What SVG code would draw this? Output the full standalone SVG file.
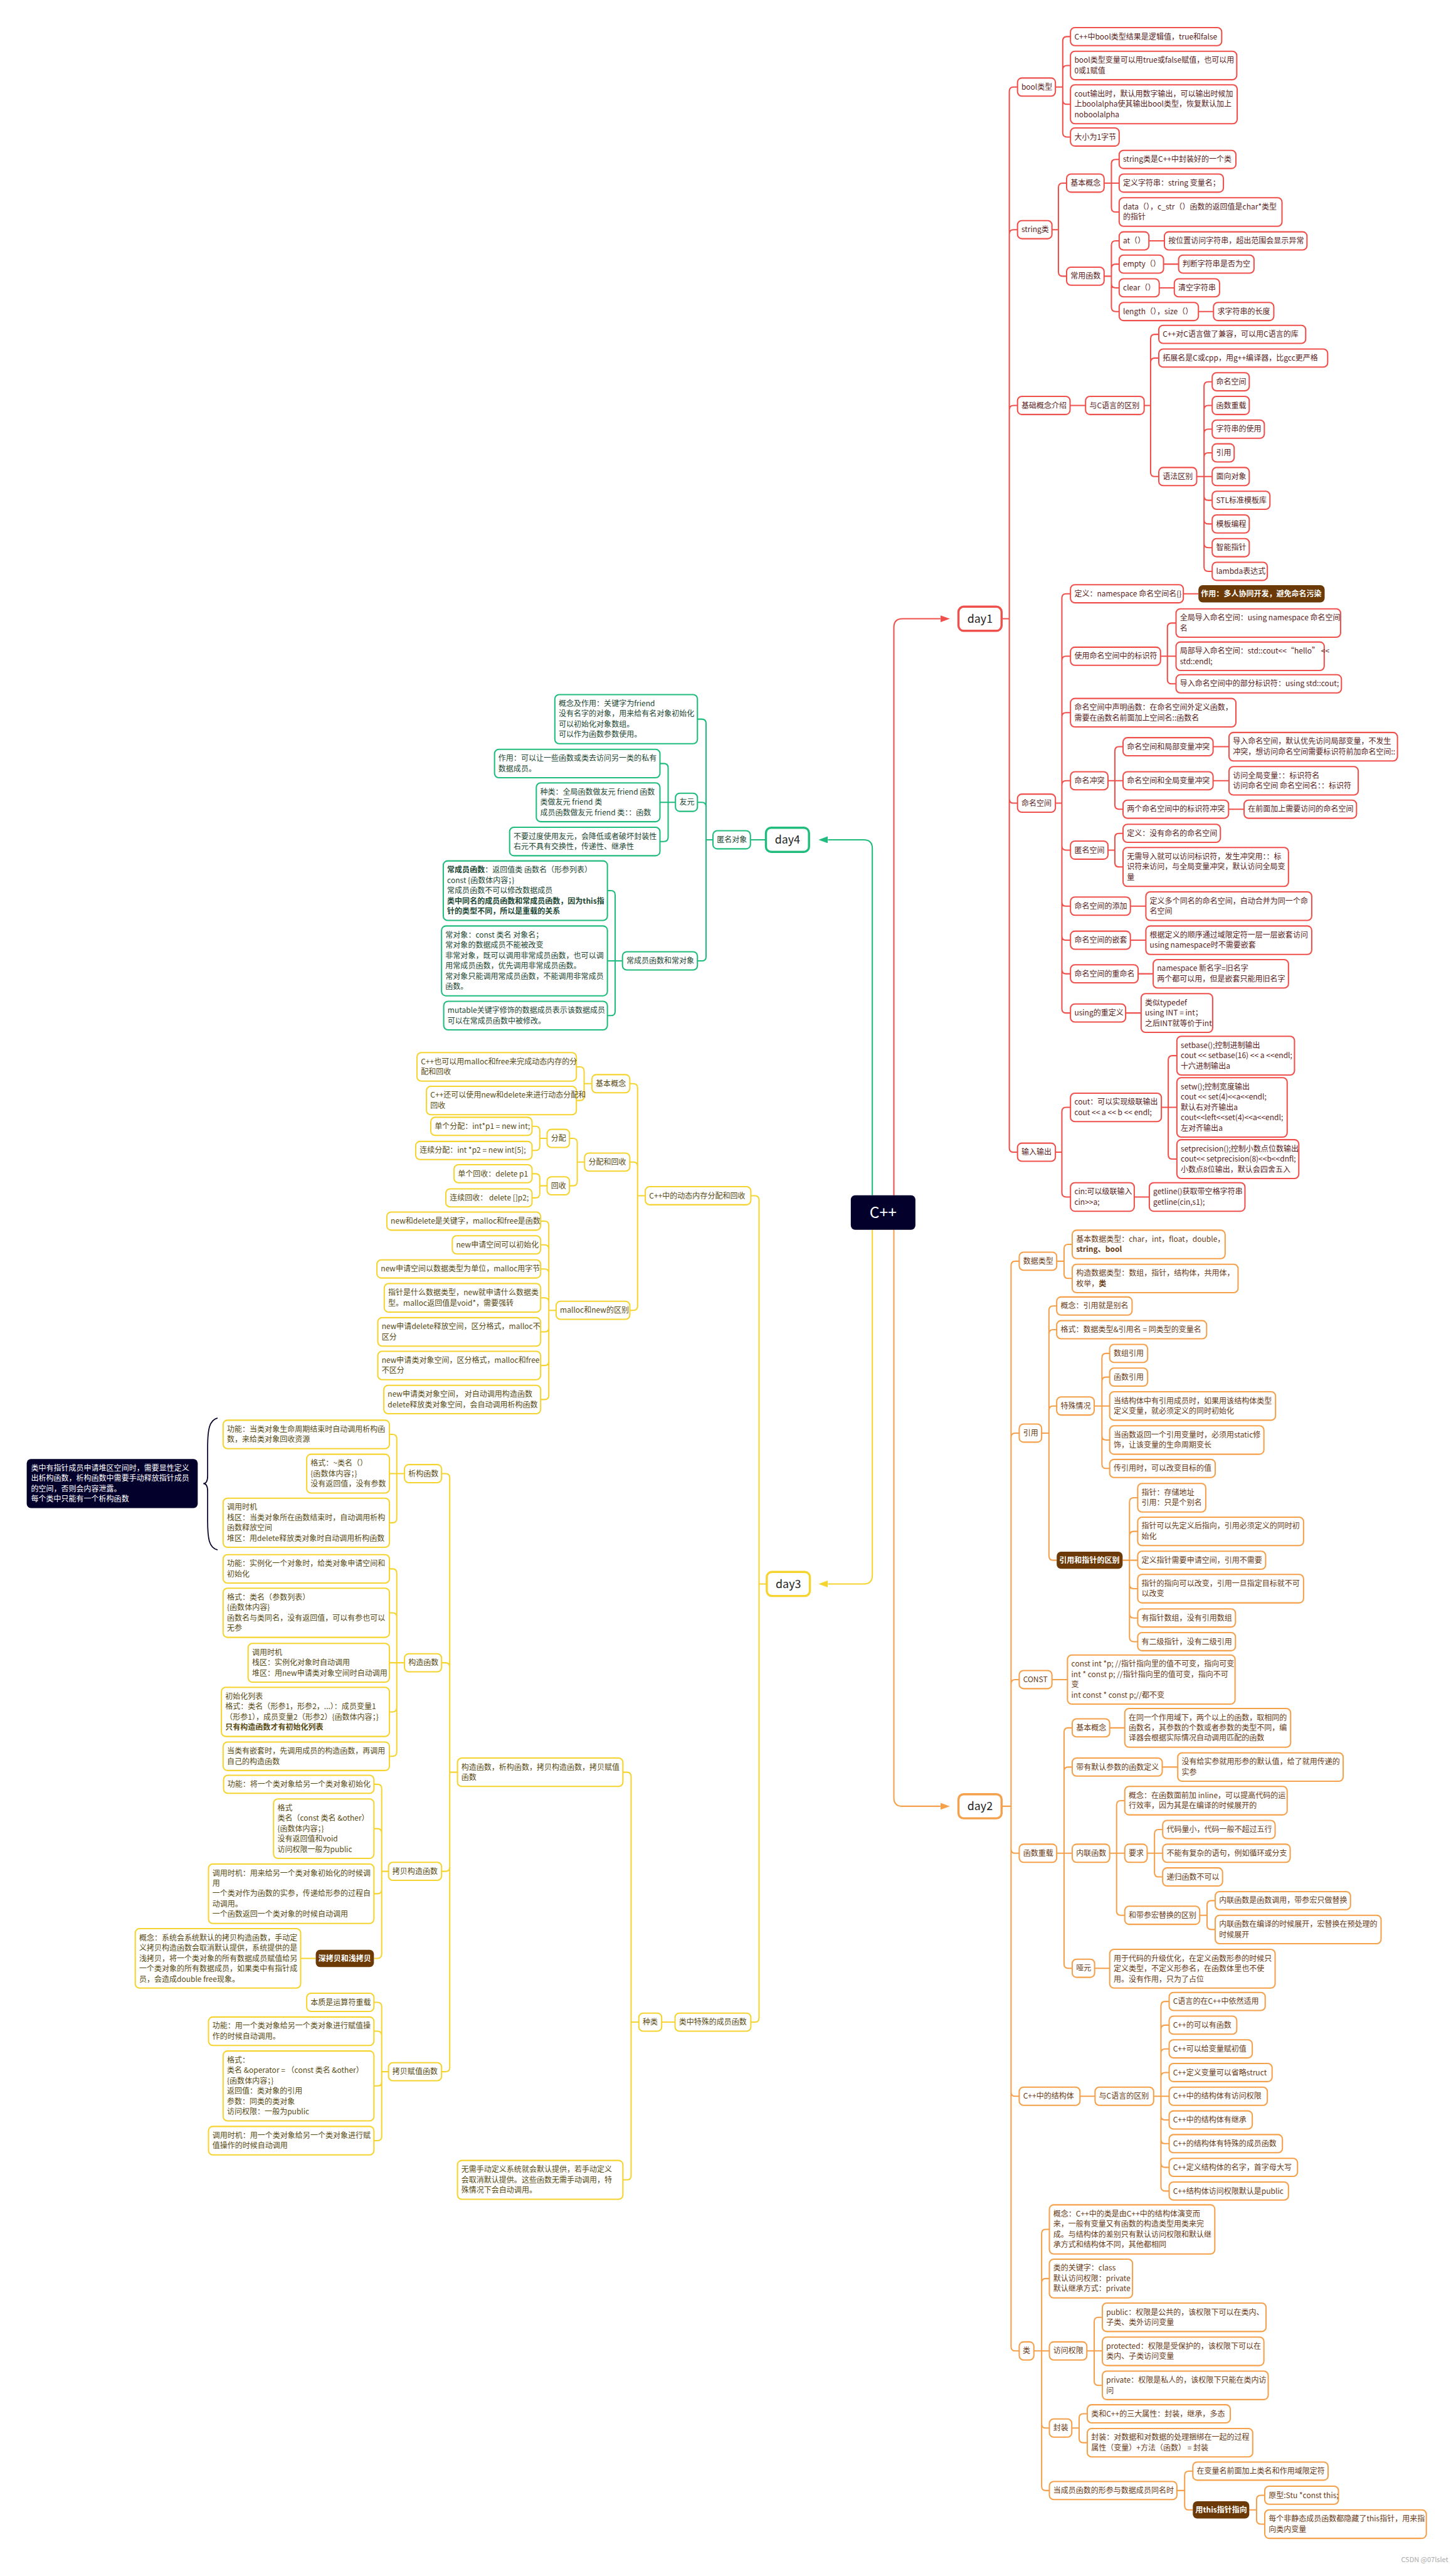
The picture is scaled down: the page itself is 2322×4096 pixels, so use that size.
<svg xmlns="http://www.w3.org/2000/svg" width="2322" height="4096" viewBox="0 0 2322 4096">
<style>
text{font-family:'Noto Sans CJK SC','Noto Sans',sans-serif;font-size:17.5px}
.r{fill:#fff;stroke:#F0504C;stroke-width:3}
.o{fill:#fff;stroke:#F5A04B;stroke-width:3}
.y{fill:#fff;stroke:#F6D430;stroke-width:3}
.g{fill:#fff;stroke:#20BC7D;stroke-width:3}
.d{stroke-width:5}
.bb{fill:#6B3A06}
.nv{fill:#03012B}
.tr{fill:#5A1C1C}.to{fill:#693A15}.ty{fill:#574A12}.tg{fill:#1C4733}
.tw{fill:#fff;font-weight:bold}
.tn{fill:#fff}
.td{font-size:26px;fill:#222;text-anchor:middle}
.b{font-weight:bold}
.cr{fill:none;stroke:#F0504C;stroke-width:3}
.co{fill:none;stroke:#F5A04B;stroke-width:3}
.cy{fill:none;stroke:#F6D430;stroke-width:3}
.cg{fill:none;stroke:#20BC7D;stroke-width:3}
</style>
<defs>
<marker id="ar" markerUnits="userSpaceOnUse" markerWidth="22" markerHeight="16" refX="0" refY="8" orient="auto" viewBox="0 0 22 16"><path d="M0 0L22 8L0 16z" fill="#F0504C"/></marker>
<marker id="ag" markerUnits="userSpaceOnUse" markerWidth="22" markerHeight="16" refX="0" refY="8" orient="auto" viewBox="0 0 22 16"><path d="M0 0L22 8L0 16z" fill="#20BC7D"/></marker>
<marker id="ay" markerUnits="userSpaceOnUse" markerWidth="22" markerHeight="16" refX="0" refY="8" orient="auto" viewBox="0 0 22 16"><path d="M0 0L22 8L0 16z" fill="#F6D430"/></marker>
<marker id="ao" markerUnits="userSpaceOnUse" markerWidth="22" markerHeight="16" refX="0" refY="8" orient="auto" viewBox="0 0 22 16"><path d="M0 0L22 8L0 16z" fill="#F5A04B"/></marker>
</defs>
<rect width="2322" height="4096" fill="#fff"/>
<g transform="scale(0.687)">
<g id="connectors">
<path class="cr" d="M2075 2774V1456Q2075 1436 2095 1436H2183" marker-end="url(#ar)"/>
<path class="cg" d="M2025 2774V1969Q2025 1949 2005 1949H1922" marker-end="url(#ag)"/>
<path class="cy" d="M2025 2854V3656Q2025 3676 2005 3676H1922" marker-end="url(#ay)"/>
<path class="co" d="M2075 2854V4172Q2075 4192 2095 4192H2183" marker-end="url(#ao)"/>
<path class="cr" d="M2325 1436H2343M2343 1436V212Q2343 202 2353 202H2362M2343 1436V543Q2343 533 2353 533H2362M2343 1436V951Q2343 941 2353 941H2362M2343 1436V1854Q2343 1864 2353 1864H2362M2343 1436V2664Q2343 2674 2353 2674H2362
M2450 202H2467M2467 202V95Q2467 85 2477 85H2485M2467 202V162Q2467 152 2477 152H2485M2467 202V232Q2467 242 2477 242H2485M2467 202V308Q2467 318 2477 318H2485
M2442 533H2457M2457 533V435Q2457 425 2467 425H2476M2457 533V631Q2457 641 2467 641H2476
M2563 425H2598M2580 425V380Q2580 370 2590 370H2598M2580 425V482Q2580 492 2590 492H2598
M2563 641H2580M2580 641V569Q2580 559 2590 559H2598M2580 641V623Q2580 613 2590 613H2598M2580 641V658Q2580 668 2590 668H2598M2580 641V713Q2580 723 2590 723H2598
M2667 559H2703M2701 613H2736M2691 668H2726M2782 723H2817
M2484 941H2520
M2656 941H2671M2671 941V786Q2671 776 2681 776H2690M2671 941V841Q2671 831 2681 831H2690M2671 941V1096Q2671 1106 2681 1106H2690
M2778 1106H2814M2795 1106V896Q2795 886 2805 886H2814M2795 1106V951Q2795 941 2805 941H2814M2795 1106V1006Q2795 996 2805 996H2814M2795 1106V1061Q2795 1051 2805 1051H2814M2795 1106V1151Q2795 1161 2805 1161H2814M2795 1106V1206Q2795 1216 2805 1216H2814M2795 1106V1261Q2795 1271 2805 1271H2814M2795 1106V1316Q2795 1326 2805 1326H2814
M2450 1864H2465M2465 1864V1388Q2465 1378 2475 1378H2485M2465 1864V1533Q2465 1523 2475 1523H2485M2465 1864V1664Q2465 1654 2475 1654H2485M2465 1864V1822Q2465 1812 2475 1812H2485M2465 1864V1963Q2465 1973 2475 1973H2485M2465 1864V2093Q2465 2103 2475 2103H2485M2465 1864V2172Q2465 2182 2475 2182H2485M2465 1864V2250Q2465 2260 2475 2260H2485M2465 1864V2341Q2465 2351 2475 2351H2485
M2747 1378H2782
M2694 1523H2730M2710 1523V1456Q2710 1446 2720 1446H2730M2710 1523V1577Q2710 1587 2720 1587H2730
M2572 1812H2607M2588 1812V1743Q2588 1733 2598 1733H2607M2588 1812V1868Q2588 1878 2598 1878H2607M2816 1733H2853M2816 1812H2853M2852 1878H2888
M2572 1973H2588M2588 1973V1944Q2588 1934 2598 1934H2607M2588 1973V2002Q2588 2012 2598 2012H2607
M2624 2103H2660M2624 2182H2660M2642 2260H2677M2613 2351H2649
M2450 2674H2465M2465 2674V2580Q2465 2570 2475 2570H2485M2465 2674V2768Q2465 2778 2475 2778H2485
M2696 2570H2732M2712 2570V2460Q2712 2450 2722 2450H2732M2712 2570V2680Q2712 2690 2722 2690H2732
M2633 2778H2668"/>
<path class="cg" d="M1778 1949H1742
M1655 1949H1639M1639 1949V1679Q1639 1669 1629 1669H1619M1639 1949V1872Q1639 1862 1629 1862H1619M1639 1949V2220Q1639 2230 1629 2230H1619
M1568 1862H1532M1551 1862V1782Q1551 1772 1541 1772H1532M1551 1862V1943Q1551 1953 1541 1953H1532
M1445 2230H1410M1428 2230V2077Q1428 2067 1418 2067H1410M1428 2230V2347Q1428 2357 1418 2357H1410"/>
<path class="cy" d="M1780 3676H1762M1762 3676V2785Q1762 2775 1752 2775H1743M1762 3676V4683Q1762 4693 1752 4693H1743
M1498 2775H1480M1480 2775V2525Q1480 2515 1470 2515H1462M1480 2775V2707Q1480 2697 1470 2697H1462M1480 2775V3031Q1480 3041 1470 3041H1462
M1374 2515H1356M1356 2515V2486Q1356 2476 1346 2476H1338M1356 2515V2544Q1356 2554 1346 2554H1338
M1357 2697H1340M1340 2697V2652Q1340 2642 1330 2642H1322M1340 2697V2742Q1340 2752 1330 2752H1322
M1270 2642H1253M1253 2642V2624Q1253 2614 1243 2614H1235M1253 2642V2660Q1253 2670 1243 2670H1235
M1270 2752H1253M1253 2752V2734Q1253 2724 1243 2724H1235M1253 2752V2770Q1253 2780 1243 2780H1235
M1291 3041H1274M1274 3041V2844Q1274 2834 1264 2834H1255M1274 3041V2899Q1274 2889 1264 2889H1255M1274 3041V2955Q1274 2945 1264 2945H1255M1274 3041V3022Q1274 3012 1264 3012H1255M1274 3041V3081Q1274 3091 1264 3091H1255M1274 3041V3159Q1274 3169 1264 3169H1255M1274 3041V3238Q1274 3248 1264 3248H1255
M1567 4693H1536
M1483 4693H1465M1465 4693V4123Q1465 4113 1455 4113H1446M1465 4693V5049Q1465 5059 1455 5059H1446
M1062 4113H1044M1044 4113V3430Q1044 3420 1034 3420H1025M1044 4113V3869Q1044 3859 1034 3859H1025M1044 4113V4333Q1044 4343 1034 4343H1025M1044 4113V4798Q1044 4808 1034 4808H1025
M939 3420H904M921 3420V3339Q921 3329 911 3329H904M921 3420V3524Q921 3534 911 3534H904
M939 3859H904M921 3859V3651Q921 3641 911 3641H904M921 3859V3753Q921 3743 911 3743H904M921 3859V3963Q921 3973 911 3973H904M921 3859V4066Q921 4076 911 4076H904
M902 4343H886M886 4343V4151Q886 4141 876 4141H868M886 4343V4254Q886 4244 876 4244H868M886 4343V4385Q886 4395 876 4395H868M886 4343V4535Q886 4545 876 4545H868
M733 4545H698
M902 4808H886M886 4808V4657Q886 4647 876 4647H868M886 4808V4724Q886 4714 876 4714H868M886 4808V4831Q886 4841 876 4841H868M886 4808V4958Q886 4968 876 4968H868"/>
<path class="co" d="M2325 4192H2347M2347 4192V2937Q2347 2927 2357 2927H2366M2347 4192V3336Q2347 3326 2357 3326H2366M2347 4192V3908Q2347 3898 2357 3898H2366M2347 4192V4291Q2347 4301 2357 4301H2366M2347 4192V4855Q2347 4865 2357 4865H2366M2347 4192V5446Q2347 5456 2357 5456H2366
M2453 2927H2470M2470 2927V2898Q2470 2888 2480 2888H2489M2470 2927V2957Q2470 2967 2480 2967H2489
M2418 3326H2435M2435 3326V3041Q2435 3031 2445 3031H2453M2435 3326V3096Q2435 3086 2445 3086H2453M2435 3326V3273Q2435 3263 2445 3263H2453M2435 3326V3611Q2435 3621 2445 3621H2453
M2540 3263H2576M2558 3263V3151Q2558 3141 2568 3141H2576M2558 3263V3206Q2558 3196 2568 3196H2576M2558 3263V3332Q2558 3342 2568 3342H2576M2558 3263V3398Q2558 3408 2568 3408H2576
M2606 3621H2641M2622 3621V3486Q2622 3476 2632 3476H2641M2622 3621V3564Q2622 3554 2632 3554H2641M2622 3621V3677Q2622 3687 2632 3687H2641M2622 3621V3745Q2622 3755 2632 3755H2641M2622 3621V3800Q2622 3810 2632 3810H2641
M2442 3898H2478
M2453 4301H2489M2470 4301V4020Q2470 4010 2480 4010H2489M2470 4301V4111Q2470 4101 2480 4101H2489M2470 4301V4558Q2470 4568 2480 4568H2489
M2576 4010H2611M2698 4101H2734M2541 4568H2576
M2576 4301H2611M2592 4301V4189Q2592 4179 2602 4179H2611M2592 4301V4435Q2592 4445 2602 4445H2611
M2663 4301H2699M2680 4301V4256Q2680 4246 2690 4246H2699M2680 4301V4346Q2680 4356 2690 4356H2699
M2785 4445H2802M2802 4445V4421Q2802 4411 2812 4411H2821M2802 4445V4468Q2802 4478 2812 4478H2821
M2507 4865H2542
M2678 4865H2714M2695 4865V4655Q2695 4645 2705 4645H2714M2695 4865V4710Q2695 4700 2705 4700H2714M2695 4865V4765Q2695 4755 2705 4755H2714M2695 4865V4820Q2695 4810 2705 4810H2714M2695 4865V4910Q2695 4920 2705 4920H2714M2695 4865V4965Q2695 4975 2705 4975H2714M2695 4865V5020Q2695 5030 2705 5030H2714M2695 4865V5075Q2695 5085 2705 5085H2714
M2400 5456H2436M2418 5456V5184Q2418 5174 2428 5174H2436M2418 5456V5298Q2418 5288 2428 5288H2436M2418 5456V5625Q2418 5635 2428 5635H2436M2418 5456V5770Q2418 5780 2428 5780H2436
M2523 5456H2559M2540 5456V5388Q2540 5378 2550 5378H2559M2540 5456V5526Q2540 5536 2550 5536H2559
M2488 5635H2505M2505 5635V5612Q2505 5602 2515 5602H2524M2505 5635V5659Q2505 5669 2515 5669H2524
M2732 5780H2750M2750 5780V5745Q2750 5735 2760 5735H2769M2750 5780V5815Q2750 5825 2760 5825H2769
M2900 5825H2917M2917 5825V5801Q2917 5791 2927 5791H2936M2917 5825V5848Q2917 5858 2927 5858H2936"/>
<path d="M505 3291C485 3296 482 3320 482 3360L482 3425Q482 3443 472 3443Q482 3443 482 3461L482 3530C482 3570 485 3592 505 3597" fill="none" stroke="#03012B" stroke-width="2.5"/>
</g>

<g id="n-root"><rect class="nv" x="1975" y="2774" width="150" height="80" rx="10"/><text class="tn" x="2050" y="2827" font-size="36" text-anchor="middle" style="font-size:36px">C++</text></g>

<!-- RED day1 -->
<g id="n-day1"><rect class="r d" x="2225" y="1408" width="100" height="56" rx="12"/><text class="td" x="2275" y="1445">day1</text></g>
<g id="n-bool"><rect class="r" x="2362" y="181" width="88" height="42" rx="10"/><text class="tr" x="2371" y="208">bool类型</text></g>
<g id="n-b1"><rect class="r" x="2485" y="64" width="351" height="42" rx="10"/><text class="tr" x="2494" y="91">C++中bool类型结果是逻辑值，true和false</text></g>
<g id="n-b2"><rect class="r" x="2485" y="119" width="386" height="66" rx="10"/><text class="tr"><tspan x="2494" y="146">bool类型变量可以用true或false赋值，也可以用</tspan><tspan x="2494" y="170">0或1赋值</tspan></text></g>
<g id="n-b3"><rect class="r" x="2485" y="197" width="387" height="90" rx="10"/><text class="tr"><tspan x="2494" y="224">cout输出时，默认用数字输出，可以输出时候加</tspan><tspan x="2494" y="248">上boolalpha使其输出bool类型，恢复默认加上</tspan><tspan x="2494" y="272">noboolalpha</tspan></text></g>
<g id="n-b4"><rect class="r" x="2485" y="297" width="113" height="42" rx="10"/><text class="tr" x="2494" y="324">大小为1字节</text></g>
<g id="n-string"><rect class="r" x="2362" y="512" width="80" height="42" rx="10"/><text class="tr" x="2371" y="539">string类</text></g>
<g id="n-sjb"><rect class="r" x="2476" y="404" width="87" height="42" rx="10"/><text class="tr" x="2485" y="431">基本概念</text></g>
<g id="n-s1"><rect class="r" x="2598" y="349" width="271" height="42" rx="10"/><text class="tr" x="2607" y="376">string类是C++中封装好的一个类</text></g>
<g id="n-s2"><rect class="r" x="2598" y="404" width="242" height="42" rx="10"/><text class="tr" x="2607" y="431">定义字符串：string 变量名；</text></g>
<g id="n-s3"><rect class="r" x="2598" y="459" width="378" height="66" rx="10"/><text class="tr"><tspan x="2607" y="486">data（），c_str（）函数的返回值是char*类型</tspan><tspan x="2607" y="510">的指针</tspan></text></g>
<g id="n-scy"><rect class="r" x="2476" y="620" width="87" height="42" rx="10"/><text class="tr" x="2485" y="647">常用函数</text></g>
<g id="n-at"><rect class="r" x="2598" y="538" width="69" height="42" rx="10"/><text class="tr" x="2607" y="565">at（）</text></g>
<g id="n-atd"><rect class="r" x="2703" y="538" width="331" height="42" rx="10"/><text class="tr" x="2712" y="565">按位置访问字符串，超出范围会显示异常</text></g>
<g id="n-empty"><rect class="r" x="2598" y="592" width="103" height="42" rx="10"/><text class="tr" x="2607" y="619">empty（）</text></g>
<g id="n-emptyd"><rect class="r" x="2736" y="592" width="175" height="42" rx="10"/><text class="tr" x="2745" y="619">判断字符串是否为空</text></g>
<g id="n-clear"><rect class="r" x="2598" y="647" width="93" height="42" rx="10"/><text class="tr" x="2607" y="674">clear（）</text></g>
<g id="n-cleard"><rect class="r" x="2726" y="647" width="105" height="42" rx="10"/><text class="tr" x="2735" y="674">清空字符串</text></g>
<g id="n-len"><rect class="r" x="2598" y="702" width="184" height="42" rx="10"/><text class="tr" x="2607" y="729">length（），size（）</text></g>
<g id="n-lend"><rect class="r" x="2817" y="702" width="140" height="42" rx="10"/><text class="tr" x="2826" y="729">求字符串的长度</text></g>
<g id="n-jcgn"><rect class="r" x="2362" y="920" width="122" height="42" rx="10"/><text class="tr" x="2371" y="947">基础概念介绍</text></g>
<g id="n-yc"><rect class="r" x="2520" y="920" width="136" height="42" rx="10"/><text class="tr" x="2529" y="947">与C语言的区别</text></g>
<g id="n-yc1"><rect class="r" x="2690" y="755" width="341" height="42" rx="10"/><text class="tr" x="2699" y="782">C++对C语言做了兼容，可以用C语言的库</text></g>
<g id="n-yc2"><rect class="r" x="2690" y="810" width="392" height="42" rx="10"/><text class="tr" x="2699" y="837">拓展名是C或cpp，用g++编译器，比gcc更严格</text></g>
<g id="n-yf"><rect class="r" x="2690" y="1085" width="88" height="42" rx="10"/><text class="tr" x="2699" y="1112">语法区别</text></g>
<g id="n-yf1"><rect class="r" x="2814" y="865" width="86" height="42" rx="10"/><text class="tr" x="2823" y="892">命名空间</text></g>
<g id="n-yf2"><rect class="r" x="2814" y="920" width="86" height="42" rx="10"/><text class="tr" x="2823" y="947">函数重载</text></g>
<g id="n-yf3"><rect class="r" x="2814" y="975" width="121" height="42" rx="10"/><text class="tr" x="2823" y="1002">字符串的使用</text></g>
<g id="n-yf4"><rect class="r" x="2814" y="1030" width="51" height="42" rx="10"/><text class="tr" x="2823" y="1057">引用</text></g>
<g id="n-yf5"><rect class="r" x="2814" y="1085" width="86" height="42" rx="10"/><text class="tr" x="2823" y="1112">面向对象</text></g>
<g id="n-yf6"><rect class="r" x="2814" y="1140" width="134" height="42" rx="10"/><text class="tr" x="2823" y="1167">STL标准模板库</text></g>
<g id="n-yf7"><rect class="r" x="2814" y="1195" width="86" height="42" rx="10"/><text class="tr" x="2823" y="1222">模板编程</text></g>
<g id="n-yf8"><rect class="r" x="2814" y="1250" width="86" height="42" rx="10"/><text class="tr" x="2823" y="1277">智能指针</text></g>
<g id="n-yf9"><rect class="r" x="2814" y="1305" width="128" height="42" rx="10"/><text class="tr" x="2823" y="1332">lambda表达式</text></g>
<g id="n-mm"><rect class="r" x="2362" y="1843" width="88" height="42" rx="10"/><text class="tr" x="2371" y="1870">命名空间</text></g>
<g id="n-m1"><rect class="r" x="2485" y="1357" width="262" height="42" rx="10"/><text class="tr" x="2494" y="1384">定义：namespace 命名空间名{}</text></g>
<g id="n-m1b"><rect class="bb" x="2782" y="1358" width="293" height="40" rx="10"/><text class="tw" x="2788" y="1384">作用：多人协同开发，避免命名污染</text></g>
<g id="n-m2"><rect class="r" x="2485" y="1502" width="209" height="42" rx="10"/><text class="tr" x="2494" y="1529">使用命名空间中的标识符</text></g>
<g id="n-m21"><rect class="r" x="2730" y="1413" width="382" height="66" rx="10"/><text class="tr"><tspan x="2739" y="1440">全局导入命名空间：using namespace 命名空间</tspan><tspan x="2739" y="1464">名</tspan></text></g>
<g id="n-m22"><rect class="r" x="2730" y="1490" width="344" height="66" rx="10"/><text class="tr"><tspan x="2739" y="1517">局部导入命名空间：std::cout&lt;&lt;“hello” &lt;&lt;</tspan><tspan x="2739" y="1541">std::endl;</tspan></text></g>
<g id="n-m23"><rect class="r" x="2730" y="1566" width="384" height="42" rx="10"/><text class="tr" x="2739" y="1593">导入命名空间中的部分标识符：using std::cout;</text></g>
<g id="n-m3"><rect class="r" x="2485" y="1621" width="384" height="66" rx="10"/><text class="tr"><tspan x="2494" y="1648">命名空间中声明函数：在命名空间外定义函数，</tspan><tspan x="2494" y="1672">需要在函数名前面加上空间名::函数名</tspan></text></g>
<g id="n-m4"><rect class="r" x="2485" y="1791" width="87" height="42" rx="10"/><text class="tr" x="2494" y="1818">命名冲突</text></g>
<g id="n-m41"><rect class="r" x="2607" y="1712" width="209" height="42" rx="10"/><text class="tr" x="2616" y="1739">命名空间和局部变量冲突</text></g>
<g id="n-m41d"><rect class="r" x="2853" y="1700" width="391" height="66" rx="10"/><text class="tr"><tspan x="2862" y="1727">导入命名空间，默认优先访问局部变量，不发生</tspan><tspan x="2862" y="1751">冲突，想访问命名空间需要标识符前加命名空间::</tspan></text></g>
<g id="n-m42"><rect class="r" x="2607" y="1791" width="209" height="42" rx="10"/><text class="tr" x="2616" y="1818">命名空间和全局变量冲突</text></g>
<g id="n-m42d"><rect class="r" x="2853" y="1779" width="300" height="66" rx="10"/><text class="tr"><tspan x="2862" y="1806">访问全局变量：：标识符名</tspan><tspan x="2862" y="1830">访问命名空间 命名空间名：：标识符</tspan></text></g>
<g id="n-m43"><rect class="r" x="2607" y="1857" width="245" height="42" rx="10"/><text class="tr" x="2616" y="1884">两个命名空间中的标识符冲突</text></g>
<g id="n-m43d"><rect class="r" x="2888" y="1857" width="261" height="42" rx="10"/><text class="tr" x="2897" y="1884">在前面加上需要访问的命名空间</text></g>
<g id="n-m5"><rect class="r" x="2485" y="1952" width="87" height="42" rx="10"/><text class="tr" x="2494" y="1979">匿名空间</text></g>
<g id="n-m51"><rect class="r" x="2607" y="1913" width="226" height="42" rx="10"/><text class="tr" x="2616" y="1940">定义：没有命名的命名空间</text></g>
<g id="n-m52"><rect class="r" x="2607" y="1967" width="384" height="90" rx="10"/><text class="tr"><tspan x="2616" y="1994">无需导入就可以访问标识符，发生冲突用：：标</tspan><tspan x="2616" y="2018">识符来访问，与全局变量冲突，默认访问全局变</tspan><tspan x="2616" y="2042">量</tspan></text></g>
<g id="n-m6"><rect class="r" x="2485" y="2082" width="139" height="42" rx="10"/><text class="tr" x="2494" y="2109">命名空间的添加</text></g>
<g id="n-m6d"><rect class="r" x="2660" y="2070" width="385" height="66" rx="10"/><text class="tr"><tspan x="2669" y="2097">定义多个同名的命名空间，自动合并为同一个命</tspan><tspan x="2669" y="2121">名空间</tspan></text></g>
<g id="n-m7"><rect class="r" x="2485" y="2161" width="139" height="42" rx="10"/><text class="tr" x="2494" y="2188">命名空间的嵌套</text></g>
<g id="n-m7d"><rect class="r" x="2660" y="2149" width="385" height="66" rx="10"/><text class="tr"><tspan x="2669" y="2176">根据定义的顺序通过域限定符一层一层嵌套访问</tspan><tspan x="2669" y="2200">using namespace时不需要嵌套</tspan></text></g>
<g id="n-m8"><rect class="r" x="2485" y="2239" width="157" height="42" rx="10"/><text class="tr" x="2494" y="2266">命名空间的重命名</text></g>
<g id="n-m8d"><rect class="r" x="2677" y="2227" width="314" height="66" rx="10"/><text class="tr"><tspan x="2686" y="2254">namespace 新名字=旧名字</tspan><tspan x="2686" y="2278">两个都可以用，但是嵌套只能用旧名字</tspan></text></g>
<g id="n-m9"><rect class="r" x="2485" y="2330" width="128" height="42" rx="10"/><text class="tr" x="2494" y="2357">using的重定义</text></g>
<g id="n-m9d"><rect class="r" x="2649" y="2306" width="166" height="90" rx="10"/><text class="tr"><tspan x="2658" y="2333">类似typedef</tspan><tspan x="2658" y="2357">using INT = int；</tspan><tspan x="2658" y="2381">之后INT就等价于int</tspan></text></g>
<g id="n-io"><rect class="r" x="2362" y="2653" width="88" height="42" rx="10"/><text class="tr" x="2371" y="2680">输入输出</text></g>
<g id="n-cout"><rect class="r" x="2485" y="2537" width="211" height="66" rx="10"/><text class="tr"><tspan x="2494" y="2564">cout：可以实现级联输出</tspan><tspan x="2494" y="2588">cout &lt;&lt; a &lt;&lt; b &lt;&lt; endl;</tspan></text></g>
<g id="n-c1"><rect class="r" x="2732" y="2405" width="273" height="90" rx="10"/><text class="tr"><tspan x="2741" y="2432">setbase();控制进制输出</tspan><tspan x="2741" y="2456">cout &lt;&lt; setbase(16) &lt;&lt; a &lt;&lt;endl;</tspan><tspan x="2741" y="2480">十六进制输出a</tspan></text></g>
<g id="n-c2"><rect class="r" x="2732" y="2501" width="256" height="138" rx="10"/><text class="tr"><tspan x="2741" y="2528">setw();控制宽度输出</tspan><tspan x="2741" y="2552">cout &lt;&lt; set(4)&lt;&lt;a&lt;&lt;endl;</tspan><tspan x="2741" y="2576">默认右对齐输出a</tspan><tspan x="2741" y="2600">cout&lt;&lt;left&lt;&lt;set(4)&lt;&lt;a&lt;&lt;endl;</tspan><tspan x="2741" y="2624">左对齐输出a</tspan></text></g>
<g id="n-c3"><rect class="r" x="2732" y="2645" width="283" height="90" rx="10"/><text class="tr"><tspan x="2741" y="2672">setprecision();控制小数点位数输出</tspan><tspan x="2741" y="2696">cout&lt;&lt; setprecision(8)&lt;&lt;b&lt;&lt;dnfl;</tspan><tspan x="2741" y="2720">小数点8位输出，默认会四舍五入</tspan></text></g>
<g id="n-cin"><rect class="r" x="2485" y="2745" width="148" height="66" rx="10"/><text class="tr"><tspan x="2494" y="2772">cin:可以级联输入</tspan><tspan x="2494" y="2796">cin&gt;&gt;a;</tspan></text></g>
<g id="n-cind"><rect class="r" x="2668" y="2745" width="222" height="66" rx="10"/><text class="tr"><tspan x="2677" y="2772">getline()获取带空格字符串</tspan><tspan x="2677" y="2796">getline(cin,s1);</tspan></text></g>

<!-- GREEN day4 -->
<g id="n-day4"><rect class="g d" x="1778" y="1921" width="100" height="56" rx="12"/><text class="td" x="1828" y="1958">day4</text></g>
<g id="n-nm"><rect class="g" x="1655" y="1928" width="87" height="42" rx="10"/><text class="tg" x="1664" y="1955">匿名对象</text></g>
<g id="n-g1"><rect class="g" x="1288" y="1612" width="331" height="114" rx="10"/><text class="tg"><tspan x="1297" y="1639">概念及作用：关键字为friend</tspan><tspan x="1297" y="1663">没有名字的对象，用来给有名对象初始化</tspan><tspan x="1297" y="1687">可以初始化对象数组。</tspan><tspan x="1297" y="1711">可以作为函数参数使用。</tspan></text></g>
<g id="n-fy"><rect class="g" x="1568" y="1841" width="51" height="42" rx="10"/><text class="tg" x="1577" y="1868">友元</text></g>
<g id="n-f1"><rect class="g" x="1148" y="1739" width="384" height="66" rx="10"/><text class="tg"><tspan x="1157" y="1766">作用：可以让一些函数或类去访问另一类的私有</tspan><tspan x="1157" y="1790">数据成员。</tspan></text></g>
<g id="n-f2"><rect class="g" x="1245" y="1817" width="287" height="90" rx="10"/><text class="tg"><tspan x="1254" y="1844">种类：全局函数做友元 friend 函数</tspan><tspan x="1254" y="1868">类做友元 friend 类</tspan><tspan x="1254" y="1892">成员函数做友元 friend 类：：函数</tspan></text></g>
<g id="n-f3"><rect class="g" x="1183" y="1920" width="349" height="66" rx="10"/><text class="tg"><tspan x="1192" y="1947">不要过度使用友元，会降低或者破坏封装性</tspan><tspan x="1192" y="1971">右元不具有交换性，传递性、继承性</tspan></text></g>
<g id="n-cc"><rect class="g" x="1445" y="2209" width="174" height="42" rx="10"/><text class="tg" x="1454" y="2236">常成员函数和常对象</text></g>
<g id="n-cc1"><rect class="g" x="1029" y="1998" width="381" height="138" rx="10"/><text class="tg"><tspan x="1038" y="2025"><tspan class="b">常成员函数</tspan>：返回值类 函数名（形参列表）</tspan><tspan x="1038" y="2049">const {函数体内容；}</tspan><tspan x="1038" y="2073">常成员函数不可以修改数据成员</tspan><tspan x="1038" y="2097" class="b">类中同名的成员函数和常成员函数，因为this指</tspan><tspan x="1038" y="2121" class="b">针的类型不同，所以是重载的关系</tspan></text></g>
<g id="n-cc2"><rect class="g" x="1025" y="2149" width="385" height="162" rx="10"/><text class="tg"><tspan x="1034" y="2176">常对象：const 类名 对象名；</tspan><tspan x="1034" y="2200">常对象的数据成员不能被改变</tspan><tspan x="1034" y="2224">非常对象，既可以调用非常成员函数，也可以调</tspan><tspan x="1034" y="2248">用常成员函数，优先调用非常成员函数。</tspan><tspan x="1034" y="2272">常对象只能调用常成员函数，不能调用非常成员</tspan><tspan x="1034" y="2296">函数。</tspan></text></g>
<g id="n-cc3"><rect class="g" x="1030" y="2324" width="380" height="66" rx="10"/><text class="tg"><tspan x="1039" y="2351">mutable关键字修饰的数据成员表示该数据成员</tspan><tspan x="1039" y="2375">可以在常成员函数中被修改。</tspan></text></g>

<!-- YELLOW day3 -->
<g id="n-day3"><rect class="y d" x="1780" y="3648" width="100" height="56" rx="12"/><text class="td" x="1830" y="3685">day3</text></g>
<g id="n-dm"><rect class="y" x="1498" y="2754" width="245" height="42" rx="10"/><text class="ty" x="1507" y="2781">C++中的动态内存分配和回收</text></g>
<g id="n-jb"><rect class="y" x="1374" y="2494" width="88" height="42" rx="10"/><text class="ty" x="1383" y="2521">基本概念</text></g>
<g id="n-jb1"><rect class="y" x="968" y="2443" width="370" height="66" rx="10"/><text class="ty"><tspan x="977" y="2470">C++也可以用malloc和free来完成动态内存的分</tspan><tspan x="977" y="2494">配和回收</tspan></text></g>
<g id="n-jb2"><rect class="y" x="990" y="2521" width="348" height="66" rx="10"/><text class="ty"><tspan x="999" y="2548">C++还可以使用new和delete来进行动态分配和</tspan><tspan x="999" y="2572">回收</tspan></text></g>
<g id="n-fphs"><rect class="y" x="1357" y="2676" width="105" height="42" rx="10"/><text class="ty" x="1366" y="2703">分配和回收</text></g>
<g id="n-fp"><rect class="y" x="1270" y="2621" width="52" height="42" rx="10"/><text class="ty" x="1279" y="2648">分配</text></g>
<g id="n-fp1"><rect class="y" x="1000" y="2593" width="235" height="42" rx="10"/><text class="ty" x="1009" y="2620">单个分配：int*p1 = new int;</text></g>
<g id="n-fp2"><rect class="y" x="965" y="2649" width="270" height="42" rx="10"/><text class="ty" x="974" y="2676">连续分配：int *p2 = new int[5];</text></g>
<g id="n-hs"><rect class="y" x="1270" y="2731" width="52" height="42" rx="10"/><text class="ty" x="1279" y="2758">回收</text></g>
<g id="n-hs1"><rect class="y" x="1054" y="2703" width="181" height="42" rx="10"/><text class="ty" x="1063" y="2730">单个回收：delete p1</text></g>
<g id="n-hs2"><rect class="y" x="1035" y="2759" width="200" height="42" rx="10"/><text class="ty" x="1044" y="2786">连续回收： delete []p2;</text></g>
<g id="n-mn"><rect class="y" x="1291" y="3020" width="171" height="42" rx="10"/><text class="ty" x="1300" y="3047">malloc和new的区别</text></g>
<g id="n-mn1"><rect class="y" x="898" y="2813" width="357" height="42" rx="10"/><text class="ty" x="907" y="2840">new和delete是关键字，malloc和free是函数</text></g>
<g id="n-mn2"><rect class="y" x="1050" y="2868" width="205" height="42" rx="10"/><text class="ty" x="1059" y="2895">new申请空间可以初始化</text></g>
<g id="n-mn3"><rect class="y" x="875" y="2924" width="380" height="42" rx="10"/><text class="ty" x="884" y="2951">new申请空间以数据类型为单位，malloc用字节</text></g>
<g id="n-mn4"><rect class="y" x="892" y="2979" width="363" height="66" rx="10"/><text class="ty"><tspan x="901" y="3006">指针是什么数据类型，new就申请什么数据类</tspan><tspan x="901" y="3030">型。malloc返回值是void*，需要强转</tspan></text></g>
<g id="n-mn5"><rect class="y" x="877" y="3058" width="378" height="66" rx="10"/><text class="ty"><tspan x="886" y="3085">new申请delete释放空间，区分格式，malloc不</tspan><tspan x="886" y="3109">区分</tspan></text></g>
<g id="n-mn6"><rect class="y" x="877" y="3136" width="378" height="66" rx="10"/><text class="ty"><tspan x="886" y="3163">new申请类对象空间，区分格式，malloc和free</tspan><tspan x="886" y="3187">不区分</tspan></text></g>
<g id="n-mn7"><rect class="y" x="891" y="3215" width="364" height="66" rx="10"/><text class="ty"><tspan x="900" y="3242">new申请类对象空间， 对自动调用构造函数</tspan><tspan x="900" y="3266">delete释放类对象空间，会自动调用析构函数</tspan></text></g>
<g id="n-ts"><rect class="y" x="1567" y="4672" width="176" height="42" rx="10"/><text class="ty" x="1576" y="4699">类中特殊的成员函数</text></g>
<g id="n-zl"><rect class="y" x="1483" y="4672" width="53" height="42" rx="10"/><text class="ty" x="1492" y="4699">种类</text></g>
<g id="n-gz"><rect class="y" x="1062" y="4080" width="384" height="66" rx="10"/><text class="ty"><tspan x="1071" y="4107">构造函数，析构函数，拷贝构造函数，拷贝赋值</tspan><tspan x="1071" y="4131">函数</tspan></text></g>
<g id="n-wx"><rect class="y" x="1062" y="5014" width="384" height="90" rx="10"/><text class="ty"><tspan x="1071" y="5041">无需手动定义系统就会默认提供，若手动定义</tspan><tspan x="1071" y="5065">会取消默认提供。这些函数无需手动调用，特</tspan><tspan x="1071" y="5089">殊情况下会自动调用。</tspan></text></g>
<g id="n-xg"><rect class="y" x="939" y="3399" width="86" height="42" rx="10"/><text class="ty" x="948" y="3426">析构函数</text></g>
<g id="n-xg1"><rect class="y" x="518" y="3296" width="386" height="66" rx="10"/><text class="ty"><tspan x="527" y="3323">功能：当类对象生命周期结束时自动调用析构函</tspan><tspan x="527" y="3347">数，来给类对象回收资源</tspan></text></g>
<g id="n-xg2"><rect class="y" x="712" y="3375" width="192" height="90" rx="10"/><text class="ty"><tspan x="721" y="3402">格式：~类名（）</tspan><tspan x="721" y="3426">{函数体内容；}</tspan><tspan x="721" y="3450">没有返回值，没有参数</tspan></text></g>
<g id="n-xg3"><rect class="y" x="518" y="3477" width="386" height="114" rx="10"/><text class="ty"><tspan x="527" y="3504">调用时机</tspan><tspan x="527" y="3528">栈区：当类对象所在函数结束时，自动调用析构</tspan><tspan x="527" y="3552">函数释放空间</tspan><tspan x="527" y="3576">堆区：用delete释放类对象时自动调用析构函数</tspan></text></g>
<g id="n-nv"><rect class="nv" x="62" y="3386" width="397" height="114" rx="10"/><text class="tn"><tspan x="72" y="3413">类中有指针成员申请堆区空间时，需要显性定义</tspan><tspan x="72" y="3437">出析构函数，析构函数中需要手动释放指针成员</tspan><tspan x="72" y="3461">的空间，否则会内容泄露。</tspan><tspan x="72" y="3485">每个类中只能有一个析构函数</tspan></text></g>
<g id="n-gzh"><rect class="y" x="939" y="3838" width="86" height="42" rx="10"/><text class="ty" x="948" y="3865">构造函数</text></g>
<g id="n-gz1"><rect class="y" x="518" y="3608" width="386" height="66" rx="10"/><text class="ty"><tspan x="527" y="3635">功能：实例化一个对象时，给类对象申请空间和</tspan><tspan x="527" y="3659">初始化</tspan></text></g>
<g id="n-gz2"><rect class="y" x="518" y="3686" width="386" height="114" rx="10"/><text class="ty"><tspan x="527" y="3713">格式：类名（参数列表）</tspan><tspan x="527" y="3737">{函数体内容}</tspan><tspan x="527" y="3761">函数名与类同名，没有返回值，可以有参也可以</tspan><tspan x="527" y="3785">无参</tspan></text></g>
<g id="n-gz3"><rect class="y" x="576" y="3814" width="328" height="90" rx="10"/><text class="ty"><tspan x="585" y="3841">调用时机</tspan><tspan x="585" y="3865">栈区：实例化对象时自动调用</tspan><tspan x="585" y="3889">堆区：用new申请类对象空间时自动调用</tspan></text></g>
<g id="n-gz4"><rect class="y" x="514" y="3916" width="390" height="114" rx="10"/><text class="ty"><tspan x="523" y="3943">初始化列表</tspan><tspan x="523" y="3967">格式：类名（形参1，形参2，...）：成员变量1</tspan><tspan x="523" y="3991">（形参1），成员变量2（形参2）{函数体内容；}</tspan><tspan x="523" y="4015" class="b">只有构造函数才有初始化列表</tspan></text></g>
<g id="n-gz5"><rect class="y" x="518" y="4043" width="386" height="66" rx="10"/><text class="ty"><tspan x="527" y="4070">当类有嵌套时，先调用成员的构造函数，再调用</tspan><tspan x="527" y="4094">自己的构造函数</tspan></text></g>
<g id="n-kb"><rect class="y" x="902" y="4322" width="123" height="42" rx="10"/><text class="ty" x="911" y="4349">拷贝构造函数</text></g>
<g id="n-kb1"><rect class="y" x="519" y="4120" width="349" height="42" rx="10"/><text class="ty" x="528" y="4147">功能：将一个类对象给另一个类对象初始化</text></g>
<g id="n-kb2"><rect class="y" x="635" y="4175" width="233" height="138" rx="10"/><text class="ty"><tspan x="644" y="4202">格式</tspan><tspan x="644" y="4226">类名（const 类名 &amp;other）</tspan><tspan x="644" y="4250">{函数体内容；}</tspan><tspan x="644" y="4274">没有返回值和void</tspan><tspan x="644" y="4298">访问权限一般为public</tspan></text></g>
<g id="n-kb3"><rect class="y" x="484" y="4326" width="384" height="138" rx="10"/><text class="ty"><tspan x="493" y="4353">调用时机：用来给另一个类对象初始化的时候调</tspan><tspan x="493" y="4377">用</tspan><tspan x="493" y="4401">一个类对作为函数的实参，传递给形参的过程自</tspan><tspan x="493" y="4425">动调用。</tspan><tspan x="493" y="4449">一个函数返回一个类对象的时候自动调用</tspan></text></g>
<g id="n-kb4"><rect class="bb" x="733" y="4525" width="135" height="40" rx="10"/><text class="tw" x="739" y="4551">深拷贝和浅拷贝</text></g>
<g id="n-kb4d"><rect class="y" x="314" y="4476" width="384" height="138" rx="10"/><text class="ty"><tspan x="323" y="4503">概念：系统会系统默认的拷贝构造函数，手动定</tspan><tspan x="323" y="4527">义拷贝构造函数会取消默认提供，系统提供的是</tspan><tspan x="323" y="4551">浅拷贝，将一个类对象的所有数据成员赋值给另</tspan><tspan x="323" y="4575">一个类对象的所有数据成员，如果类中有指针成</tspan><tspan x="323" y="4599">员，会造成double free现象。</tspan></text></g>
<g id="n-fz"><rect class="y" x="902" y="4787" width="123" height="42" rx="10"/><text class="ty" x="911" y="4814">拷贝赋值函数</text></g>
<g id="n-fz1"><rect class="y" x="712" y="4626" width="156" height="42" rx="10"/><text class="ty" x="721" y="4653">本质是运算符重载</text></g>
<g id="n-fz2"><rect class="y" x="484" y="4681" width="384" height="66" rx="10"/><text class="ty"><tspan x="493" y="4708">功能：用一个类对象给另一个类对象进行赋值操</tspan><tspan x="493" y="4732">作的时候自动调用。</tspan></text></g>
<g id="n-fz3"><rect class="y" x="518" y="4760" width="350" height="162" rx="10"/><text class="ty"><tspan x="527" y="4787">格式：</tspan><tspan x="527" y="4811">类名 &amp;operator = （const 类名 &amp;other）</tspan><tspan x="527" y="4835">{函数体内容；}</tspan><tspan x="527" y="4859">返回值：类对象的引用</tspan><tspan x="527" y="4883">参数：同类的类对象</tspan><tspan x="527" y="4907">访问权限：一般为public</tspan></text></g>
<g id="n-fz4"><rect class="y" x="484" y="4935" width="384" height="66" rx="10"/><text class="ty"><tspan x="493" y="4962">调用时机：用一个类对象给另一个类对象进行赋</tspan><tspan x="493" y="4986">值操作的时候自动调用</tspan></text></g>

<!-- ORANGE day2 -->
<g id="n-day2"><rect class="o d" x="2225" y="4164" width="100" height="56" rx="12"/><text class="td" x="2275" y="4201">day2</text></g>
<g id="n-sj"><rect class="o" x="2366" y="2906" width="87" height="42" rx="10"/><text class="to" x="2375" y="2933">数据类型</text></g>
<g id="n-sj1"><rect class="o" x="2489" y="2855" width="355" height="66" rx="10"/><text class="to"><tspan x="2498" y="2882">基本数据类型：char，int，float，double，</tspan><tspan x="2498" y="2906" class="b">string、bool</tspan></text></g>
<g id="n-sj2"><rect class="o" x="2489" y="2934" width="385" height="66" rx="10"/><text class="to"><tspan x="2498" y="2961">构造数据类型：数组，指针，结构体，共用体，</tspan><tspan x="2498" y="2985">枚举，<tspan class="b">类</tspan></tspan></text></g>
<g id="n-yy"><rect class="o" x="2366" y="3305" width="52" height="42" rx="10"/><text class="to" x="2375" y="3332">引用</text></g>
<g id="n-yy1"><rect class="o" x="2453" y="3010" width="175" height="42" rx="10"/><text class="to" x="2462" y="3037">概念：引用就是别名</text></g>
<g id="n-yy2"><rect class="o" x="2453" y="3065" width="348" height="42" rx="10"/><text class="to" x="2462" y="3092">格式：数据类型&amp;引用名 = 同类型的变量名</text></g>
<g id="n-tsq"><rect class="o" x="2453" y="3242" width="87" height="42" rx="10"/><text class="to" x="2462" y="3269">特殊情况</text></g>
<g id="n-t1"><rect class="o" x="2576" y="3120" width="88" height="42" rx="10"/><text class="to" x="2585" y="3147">数组引用</text></g>
<g id="n-t2"><rect class="o" x="2576" y="3175" width="88" height="42" rx="10"/><text class="to" x="2585" y="3202">函数引用</text></g>
<g id="n-t3"><rect class="o" x="2576" y="3230" width="385" height="66" rx="10"/><text class="to"><tspan x="2585" y="3257">当结构体中有引用成员时，如果用该结构体类型</tspan><tspan x="2585" y="3281">定义变量，就必须定义的同时初始化</tspan></text></g>
<g id="n-t4"><rect class="o" x="2576" y="3309" width="358" height="66" rx="10"/><text class="to"><tspan x="2585" y="3336">当函数返回一个引用变量时，必须用static修</tspan><tspan x="2585" y="3360">饰，让该变量的生命周期变长</tspan></text></g>
<g id="n-t5"><rect class="o" x="2576" y="3387" width="245" height="42" rx="10"/><text class="to" x="2585" y="3414">传引用时，可以改变目标的值</text></g>
<g id="n-qb"><rect class="bb" x="2453" y="3601" width="153" height="40" rx="10"/><text class="tw" x="2459" y="3627">引用和指针的区别</text></g>
<g id="n-q1"><rect class="o" x="2641" y="3443" width="158" height="66" rx="10"/><text class="to"><tspan x="2650" y="3470">指针：存储地址</tspan><tspan x="2650" y="3494">引用：只是个别名</tspan></text></g>
<g id="n-q2"><rect class="o" x="2641" y="3521" width="385" height="66" rx="10"/><text class="to"><tspan x="2650" y="3548">指针可以先定义后指向，引用必须定义的同时初</tspan><tspan x="2650" y="3572">始化</tspan></text></g>
<g id="n-q3"><rect class="o" x="2641" y="3600" width="297" height="42" rx="10"/><text class="to" x="2650" y="3627">定义指针需要申请空间，引用不需要</text></g>
<g id="n-q4"><rect class="o" x="2641" y="3654" width="385" height="66" rx="10"/><text class="to"><tspan x="2650" y="3681">指针的指向可以改变，引用一旦指定目标就不可</tspan><tspan x="2650" y="3705">以改变</tspan></text></g>
<g id="n-q5"><rect class="o" x="2641" y="3734" width="227" height="42" rx="10"/><text class="to" x="2650" y="3761">有指针数组，没有引用数组</text></g>
<g id="n-q6"><rect class="o" x="2641" y="3789" width="227" height="42" rx="10"/><text class="to" x="2650" y="3816">有二级指针，没有二级引用</text></g>
<g id="n-const"><rect class="o" x="2366" y="3877" width="76" height="42" rx="10"/><text class="to" x="2375" y="3904">CONST</text></g>
<g id="n-const1"><rect class="o" x="2478" y="3841" width="389" height="114" rx="10"/><text class="to"><tspan x="2487" y="3868">const int *p; //指针指向里的值不可变，指向可变</tspan><tspan x="2487" y="3892">int * const p; //指针指向里的值可变，指向不可</tspan><tspan x="2487" y="3916">变</tspan><tspan x="2487" y="3940">int const * const p;//都不变</tspan></text></g>
<g id="n-hz"><rect class="o" x="2366" y="4280" width="87" height="42" rx="10"/><text class="to" x="2375" y="4307">函数重载</text></g>
<g id="n-h1"><rect class="o" x="2489" y="3989" width="87" height="42" rx="10"/><text class="to" x="2498" y="4016">基本概念</text></g>
<g id="n-h1d"><rect class="o" x="2611" y="3965" width="385" height="90" rx="10"/><text class="to"><tspan x="2620" y="3992">在同一个作用域下，两个以上的函数，取相同的</tspan><tspan x="2620" y="4016">函数名，其参数的个数或者参数的类型不同，编</tspan><tspan x="2620" y="4040">译器会根据实际情况自动调用匹配的函数</tspan></text></g>
<g id="n-h2"><rect class="o" x="2489" y="4080" width="209" height="42" rx="10"/><text class="to" x="2498" y="4107">带有默认参数的函数定义</text></g>
<g id="n-h2d"><rect class="o" x="2734" y="4068" width="384" height="66" rx="10"/><text class="to"><tspan x="2743" y="4095">没有给实参就用形参的默认值，给了就用传递的</tspan><tspan x="2743" y="4119">实参</tspan></text></g>
<g id="n-h3"><rect class="o" x="2489" y="4280" width="87" height="42" rx="10"/><text class="to" x="2498" y="4307">内联函数</text></g>
<g id="n-h31"><rect class="o" x="2611" y="4146" width="377" height="66" rx="10"/><text class="to"><tspan x="2620" y="4173">概念：在函数面前加 inline，可以提高代码的运</tspan><tspan x="2620" y="4197">行效率，因为其是在编译的时候展开的</tspan></text></g>
<g id="n-h32"><rect class="o" x="2611" y="4280" width="52" height="42" rx="10"/><text class="to" x="2620" y="4307">要求</text></g>
<g id="n-h321"><rect class="o" x="2699" y="4225" width="261" height="42" rx="10"/><text class="to" x="2708" y="4252">代码量小，代码一般不超过五行</text></g>
<g id="n-h322"><rect class="o" x="2699" y="4280" width="296" height="42" rx="10"/><text class="to" x="2708" y="4307">不能有复杂的语句，例如循环或分支</text></g>
<g id="n-h323"><rect class="o" x="2699" y="4335" width="139" height="42" rx="10"/><text class="to" x="2708" y="4362">递归函数不可以</text></g>
<g id="n-h33"><rect class="o" x="2611" y="4424" width="174" height="42" rx="10"/><text class="to" x="2620" y="4451">和带参宏替换的区别</text></g>
<g id="n-h331"><rect class="o" x="2821" y="4390" width="314" height="42" rx="10"/><text class="to" x="2830" y="4417">内联函数是函数调用，带参宏只做替换</text></g>
<g id="n-h332"><rect class="o" x="2821" y="4445" width="385" height="66" rx="10"/><text class="to"><tspan x="2830" y="4472">内联函数在编译的时候展开，宏替换在预处理的</tspan><tspan x="2830" y="4496">时候展开</tspan></text></g>
<g id="n-h4"><rect class="o" x="2489" y="4547" width="52" height="42" rx="10"/><text class="to" x="2498" y="4574">哑元</text></g>
<g id="n-h4d"><rect class="o" x="2576" y="4524" width="384" height="90" rx="10"/><text class="to"><tspan x="2585" y="4551">用于代码的升级优化，在定义函数形参的时候只</tspan><tspan x="2585" y="4575">定义类型，不定义形参名，在函数体里也不使</tspan><tspan x="2585" y="4599">用。没有作用，只为了占位</tspan></text></g>
<g id="n-st"><rect class="o" x="2366" y="4844" width="141" height="42" rx="10"/><text class="to" x="2375" y="4871">C++中的结构体</text></g>
<g id="n-st1"><rect class="o" x="2542" y="4844" width="136" height="42" rx="10"/><text class="to" x="2551" y="4871">与C语言的区别</text></g>
<g id="n-sk1"><rect class="o" x="2714" y="4624" width="223" height="42" rx="10"/><text class="to" x="2723" y="4651">C语言的在C++中依然适用</text></g>
<g id="n-sk2"><rect class="o" x="2714" y="4679" width="157" height="42" rx="10"/><text class="to" x="2723" y="4706">C++的可以有函数</text></g>
<g id="n-sk3"><rect class="o" x="2714" y="4734" width="193" height="42" rx="10"/><text class="to" x="2723" y="4761">C++可以给变量赋初值</text></g>
<g id="n-sk4"><rect class="o" x="2714" y="4789" width="239" height="42" rx="10"/><text class="to" x="2723" y="4816">C++定义变量可以省略struct</text></g>
<g id="n-sk5"><rect class="o" x="2714" y="4844" width="228" height="42" rx="10"/><text class="to" x="2723" y="4871">C++中的结构体有访问权限</text></g>
<g id="n-sk6"><rect class="o" x="2714" y="4899" width="193" height="42" rx="10"/><text class="to" x="2723" y="4926">C++中的结构体有继承</text></g>
<g id="n-sk7"><rect class="o" x="2714" y="4954" width="263" height="42" rx="10"/><text class="to" x="2723" y="4981">C++的结构体有特殊的成员函数</text></g>
<g id="n-sk8"><rect class="o" x="2714" y="5009" width="298" height="42" rx="10"/><text class="to" x="2723" y="5036">C++定义结构体的名字，首字母大写</text></g>
<g id="n-sk9"><rect class="o" x="2714" y="5064" width="277" height="42" rx="10"/><text class="to" x="2723" y="5091">C++结构体访问权限默认是public</text></g>
<g id="n-cl"><rect class="o" x="2366" y="5435" width="34" height="42" rx="10"/><text class="to" x="2374" y="5462">类</text></g>
<g id="n-cl1"><rect class="o" x="2436" y="5117" width="384" height="114" rx="10"/><text class="to"><tspan x="2445" y="5144">概念：C++中的类是由C++中的结构体演变而</tspan><tspan x="2445" y="5168">来，一般有变量又有函数的构造类型用类来完</tspan><tspan x="2445" y="5192">成。与结构体的差别只有默认访问权限和默认继</tspan><tspan x="2445" y="5216">承方式和结构体不同，其他都相同</tspan></text></g>
<g id="n-cl2"><rect class="o" x="2436" y="5243" width="193" height="90" rx="10"/><text class="to"><tspan x="2445" y="5270">类的关键字：class</tspan><tspan x="2445" y="5294">默认访问权限：private</tspan><tspan x="2445" y="5318">默认继承方式：private</tspan></text></g>
<g id="n-cl3"><rect class="o" x="2436" y="5435" width="87" height="42" rx="10"/><text class="to" x="2445" y="5462">访问权限</text></g>
<g id="n-cl31"><rect class="o" x="2559" y="5345" width="380" height="66" rx="10"/><text class="to"><tspan x="2568" y="5372">public：权限是公共的，该权限下可以在类内、</tspan><tspan x="2568" y="5396">子类、类外访问变量</tspan></text></g>
<g id="n-cl32"><rect class="o" x="2559" y="5424" width="375" height="66" rx="10"/><text class="to"><tspan x="2568" y="5451">protected：权限是受保护的，该权限下可以在</tspan><tspan x="2568" y="5475">类内、子类访问变量</tspan></text></g>
<g id="n-cl33"><rect class="o" x="2559" y="5503" width="385" height="66" rx="10"/><text class="to"><tspan x="2568" y="5530">private：权限是私人的，该权限下只能在类内访</tspan><tspan x="2568" y="5554">问</tspan></text></g>
<g id="n-cl4"><rect class="o" x="2436" y="5614" width="52" height="42" rx="10"/><text class="to" x="2445" y="5641">封装</text></g>
<g id="n-cl41"><rect class="o" x="2524" y="5581" width="332" height="42" rx="10"/><text class="to" x="2533" y="5608">类和C++的三大属性：封装，继承，多态</text></g>
<g id="n-cl42"><rect class="o" x="2524" y="5636" width="384" height="66" rx="10"/><text class="to"><tspan x="2533" y="5663">封装：对数据和对数据的处理捆绑在一起的过程</tspan><tspan x="2533" y="5687">属性（变量）+方法（函数） = 封装</tspan></text></g>
<g id="n-cl5"><rect class="o" x="2436" y="5759" width="296" height="42" rx="10"/><text class="to" x="2445" y="5786">当成员函数的形参与数据成员同名时</text></g>
<g id="n-cl51"><rect class="o" x="2769" y="5714" width="314" height="42" rx="10"/><text class="to" x="2778" y="5741">在变量名前面加上类名和作用域限定符</text></g>
<g id="n-cl52"><rect class="bb" x="2769" y="5805" width="131" height="40" rx="10"/><text class="tw" x="2775" y="5831">用this指针指向</text></g>
<g id="n-cl521"><rect class="o" x="2936" y="5770" width="171" height="42" rx="10"/><text class="to" x="2945" y="5797">原型:Stu *const this;</text></g>
<g id="n-cl522"><rect class="o" x="2936" y="5825" width="375" height="66" rx="10"/><text class="to"><tspan x="2945" y="5852">每个非静态成员函数都隐藏了this指针，用来指</tspan><tspan x="2945" y="5876">向类内变量</tspan></text></g>
<text x="3362" y="5946" text-anchor="end" style="font-size:16px;fill:#aaa">CSDN @07lslet</text>
</g>
</svg>
